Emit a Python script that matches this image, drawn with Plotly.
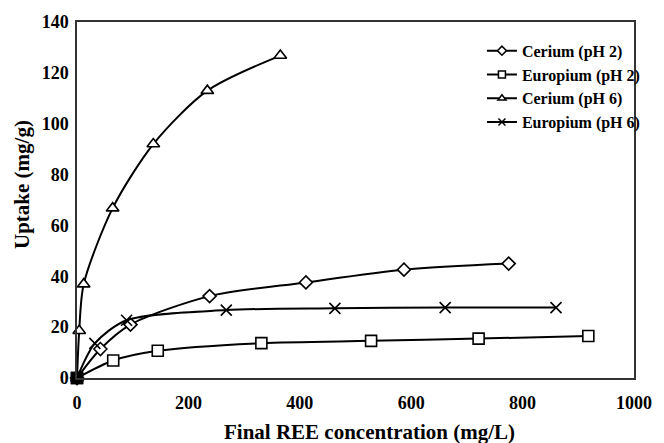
import plotly.graph_objects as go

ce2_x = [0, 42, 96, 238, 411, 587, 775]
ce2_y = [0, 11.4, 21.0, 32.2, 37.6, 42.6, 45.0]

eu2_x = [0, 65, 145, 331, 528, 721, 918]
eu2_y = [0, 6.9, 10.7, 13.7, 14.6, 15.5, 16.5]

ce6_x = [0, 4, 12, 64, 137, 234, 365]
ce6_y = [0, 18.6, 36.9, 66.8, 92.0, 113.0, 126.8]

eu6_x = [0, 32, 89, 268, 463, 661, 860]
eu6_y = [0, 13.6, 22.7, 26.7, 27.4, 27.7, 27.7]

names = ["Cerium (pH 2)", "Europium (pH 2)", "Cerium (pH 6)", "Europium (pH 6)"]
symbols = ["diamond", "square", "triangle-up", "x-thin"]
sizes = [10, 11, 11, 11]
series = [(ce2_x, ce2_y), (eu2_x, eu2_y), (ce6_x, ce6_y), (eu6_x, eu6_y)]

font = "Liberation Serif"
fig = go.Figure()
for (xs, ys), n, s, sz in zip(series, names, symbols, sizes):
    fill = "black" if s == "x-thin" else "white"
    fig.add_trace(go.Scatter(
        x=xs, y=ys, mode="lines+markers", showlegend=False,
        line=dict(color="black", width=2, shape="spline", smoothing=0.8),
        marker=dict(symbol=s, size=sz, color=fill,
                    line=dict(color="black", width=1.6)),
        cliponaxis=False,
    ))

# overlapping markers at the origin appear as a filled square
fig.add_trace(go.Scatter(
    x=[eu2_x[0]], y=[eu2_y[0]], mode="markers", showlegend=False,
    marker=dict(symbol="square", size=11, color="black",
                line=dict(color="black", width=1.6)),
    cliponaxis=False,
))

# legend entries with small symbols
for n, s in zip(names, symbols):
    fill = "black" if s == "x-thin" else "white"
    fig.add_trace(go.Scatter(
        x=[None], y=[None], name="<b>" + n + "</b>", mode="lines+markers",
        line=dict(color="black", width=2),
        marker=dict(symbol=s, size=7, color=fill,
                    line=dict(color="black", width=1.5)),
    ))

fig.update_layout(
    width=664, height=443,
    margin=dict(l=77, r=18, t=21, b=65),
    paper_bgcolor="white", plot_bgcolor="white",
    font=dict(family=font, color="black"),
    showlegend=True,
    legend=dict(x=0.727, y=0.967, xanchor="left", yanchor="top",
                bgcolor="rgba(0,0,0,0)", font=dict(size=16, family=font),
                itemwidth=30, tracegroupgap=0),
    annotations=[
        dict(text="<b>Final REE concentration (mg/L)</b>", xref="paper", yref="paper",
             x=0.525, y=-0.151, xanchor="center", yanchor="middle", showarrow=False,
             font=dict(size=21, family=font)),
        dict(text="<b>Uptake (mg/g)</b>", xref="paper", yref="paper",
             x=-0.100, y=0.543, xanchor="center", yanchor="middle", showarrow=False,
             textangle=-90, font=dict(size=21, family=font)),
    ],
)
fig.update_xaxes(
    range=[0, 1000], tickvals=[0, 200, 400, 600, 800, 1000],
    ticktext=["<b>%d</b>" % v for v in [0, 200, 400, 600, 800, 1000]],
    showgrid=False, zeroline=False, showline=True, linecolor="#333",
    linewidth=1.5, mirror=True, ticks="", ticklen=0, ticklabelstandoff=8,
    tickfont=dict(size=18, family=font),
)
fig.update_yaxes(
    range=[0, 140], tickvals=[0, 20, 40, 60, 80, 100, 120, 140],
    ticktext=["<b>%d</b>" % v for v in [0, 20, 40, 60, 80, 100, 120, 140]],
    showgrid=False, zeroline=False, showline=True, linecolor="#333",
    linewidth=1.5, mirror=True, ticks="", ticklen=0, ticklabelstandoff=3,
    tickfont=dict(size=18, family=font),
)
fig.write_html("out.html")
